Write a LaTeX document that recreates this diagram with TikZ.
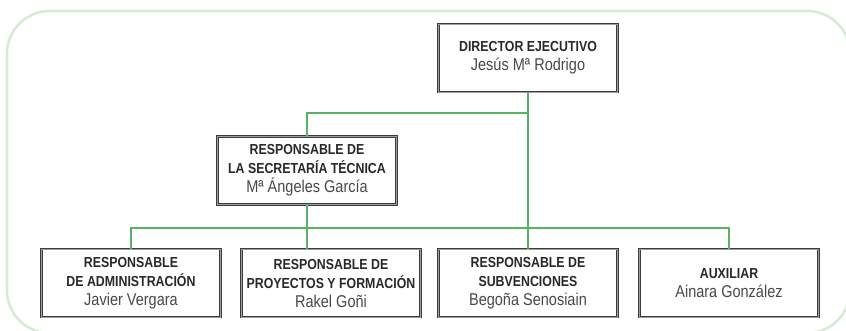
\documentclass[tikz,border=0pt]{standalone}
\usepackage{fontspec}
\setmainfont{Liberation Sans}[FakeStretch=0.85]
\usepackage{xcolor}

\definecolor{framegreen}{RGB}{214,235,211}
\definecolor{linegreen}{RGB}{88,178,98}
\definecolor{boxgray}{RGB}{60,60,60}
\definecolor{textgray}{RGB}{40,40,40}
\newcommand{\posname}[1]{{\fontsize{12.8}{14.25}\selectfont\mdseries\color{textgray!85} #1}}

\tikzset{
  unitbox/.style={draw=boxgray, double=gray!75, double distance=0.5pt, line width=0.65pt,
    minimum width=134pt, minimum height=51pt, inner sep=0pt, align=center,
    text=textgray, font=\fontsize{10.9}{14.25}\selectfont\bfseries},
  orgline/.style={draw=linegreen, line width=1.1pt}
}

\begin{document}
\begin{tikzpicture}[x=0.75pt, y=-0.75pt]
            \useasboundingbox (0,0) rectangle (846,330);
            % Frame
            \draw[framegreen, line width=1.9pt, rounded corners=32pt] (7,11) rectangle (850,333);

            % Top levels
            \node (dir) at (528, 58) [unitbox] {DIRECTOR EJECUTIVO\\\posname{Jesús Mª Rodrigo}};
            \node (sec) at (307, 170.5) [unitbox] {RESPONSABLE DE\\LA SECRETARÍA TÉCNICA\\\posname{Mª Ángeles García}};

            % Bottom row
            \node (adm) at (131, 283) [unitbox] {RESPONSABLE\\DE ADMINISTRACIÓN\\\posname{Javier Vergara}};
            \node (proy) at (331, 283) [unitbox] {RESPONSABLE DE\\PROYECTOS Y FORMACIÓN\\\posname{Rakel Goñi}};
            \node (subv) at (528, 283) [unitbox] {RESPONSABLE DE\\SUBVENCIONES\\\posname{Begoña Senosiain}};
            \node (aux) at (729, 283) [unitbox] {AUXILIAR\\\posname{Ainara González}};

            % Junctions
            \coordinate (j1) at (528, 113);
            \coordinate (j2) at (528, 228);

            % Connectors
            \draw[orgline] (dir) -- (subv);
            \draw[orgline] (sec.north) |- (j1);
            \draw[orgline] (sec.south) -- (sec.south |- proy.north);
            \draw[orgline] (adm.north) |- (j2) -| (aux.north);
        \end{tikzpicture}
\end{document}
